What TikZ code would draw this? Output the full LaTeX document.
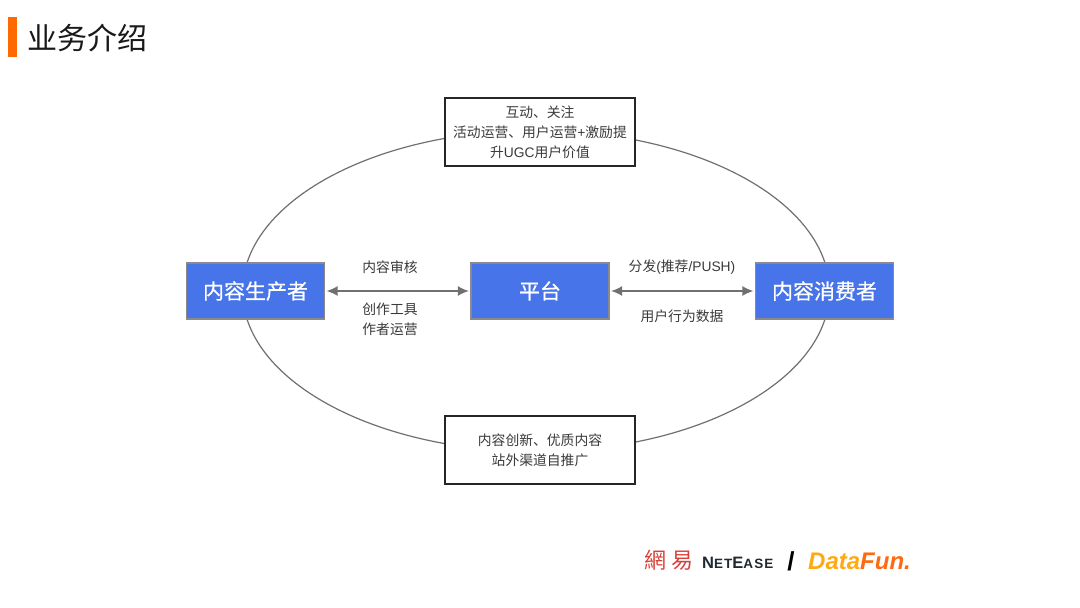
\documentclass[tikz,border=0pt]{standalone}
\usepackage{fontspec}
\setmainfont{Liberation Sans}
\newfontfamily\cjk{Noto Sans CJK SC}
\newfontfamily\cjkb[FakeBold=0.5]{Noto Sans CJK SC}
\newfontfamily\cjktc{Noto Sans CJK TC}
\newfontfamily\latsans{Liberation Sans}
\newfontfamily\latwide[LetterSpace=8]{Liberation Sans}
\usetikzlibrary{arrows.meta}
\definecolor{bluebox}{HTML}{4874EA}
\definecolor{boxedge}{HTML}{8A8A8A}
\definecolor{lineg}{HTML}{707070}
\definecolor{txt}{HTML}{3A3A3A}
\definecolor{accent}{HTML}{FF6A00}
\definecolor{wyred}{HTML}{D8403A}
\definecolor{dfa}{HTML}{FFAA10}
\definecolor{dfb}{HTML}{FF6A10}
\definecolor{nedark}{HTML}{1F2A33}
\newcommand{\lt}[1]{{\latsans #1}}
\tikzset{x=1pt,y=-1pt,
  bluenode/.style={draw=boxedge,line width=1.3pt,fill=bluebox,text=white,minimum width=138pt,minimum height=56pt,inner sep=0pt,font=\cjkb\fontsize{21}{24}\selectfont},
  notebox/.style={draw=black!85,line width=2pt,fill=white,text=txt,minimum width=190pt,inner sep=0pt,align=center,font=\cjk\fontsize{13.8}{20}\selectfont},
  lab/.style={text=txt,inner sep=0pt,align=center,font=\cjk\fontsize{13.8}{20}\selectfont},
  biarrow/.style={draw=lineg,line width=1.4pt,{Latex[length=11pt,width=10pt]}-{Latex[length=11pt,width=10pt]},shorten >=1.5pt,shorten <=1.5pt}}
\begin{document}
\begin{tikzpicture}
\useasboundingbox (0,0) rectangle (1080,608);
\fill[white] (0,0) rectangle (1080,608);
\fill[accent] (8,17) rectangle (17,57);
\node[anchor=west,inner sep=0pt,text=black!90,font=\cjk\fontsize{30}{34}\selectfont] (title) at (27,38) {业务介绍};
\draw[lineg,line width=1.2pt] (536,291) ellipse [x radius=293.5,y radius=160.5];
\node[bluenode] (prod) at (255.5,291) {内容生产者};
\node[bluenode] (plat) at (540,291) {平台};
\node[bluenode] (cons) at (824.5,291) {内容消费者};
\node[notebox,minimum height=68pt] (top) at (540,132) {互动、关注\\活动运营、用户运营\lt{+}激励提\\升\lt{UGC}用户价值};
\node[notebox,minimum height=68pt] (bot) at (540,450) {内容创新、优质内容\\站外渠道自推广};
\draw[biarrow] (prod) -- (plat);
\draw[biarrow] (plat) -- (cons);
\node[lab] (l1) at (390,267) {内容审核};
\node[lab] (l2) at (390,319) {创作工具\\作者运营};
\node[lab] (l3) at (682,267) {分发\lt{(}推荐\lt{/PUSH)}};
\node[lab] (l4) at (682,316) {用户行为数据};
\node[anchor=west,inner sep=0pt,text=wyred,font=\cjktc\fontsize{22}{24}\selectfont] (wy) at (644,560) {網\hspace{5pt}易};
\node[anchor=west,inner sep=0pt,text=nedark,font=\latwide\bfseries\fontsize{16.5}{18}\selectfont] (ne) at (702,563) {N\fontsize{13.5}{18}\selectfont ET\fontsize{16.5}{18}\selectfont E\fontsize{13.5}{18}\selectfont ASE};
\node[inner sep=0pt,text=black,font=\latsans\bfseries\fontsize{26}{28}\selectfont] (sl) at (791,561) {/};
\node[anchor=west,inner sep=0pt,font=\latsans\bfseries\itshape\fontsize{24}{26}\selectfont] (df) at (808,561) {\textcolor{dfa}{Data}\textcolor{dfb}{Fun.}};
\end{tikzpicture}
\end{document}
